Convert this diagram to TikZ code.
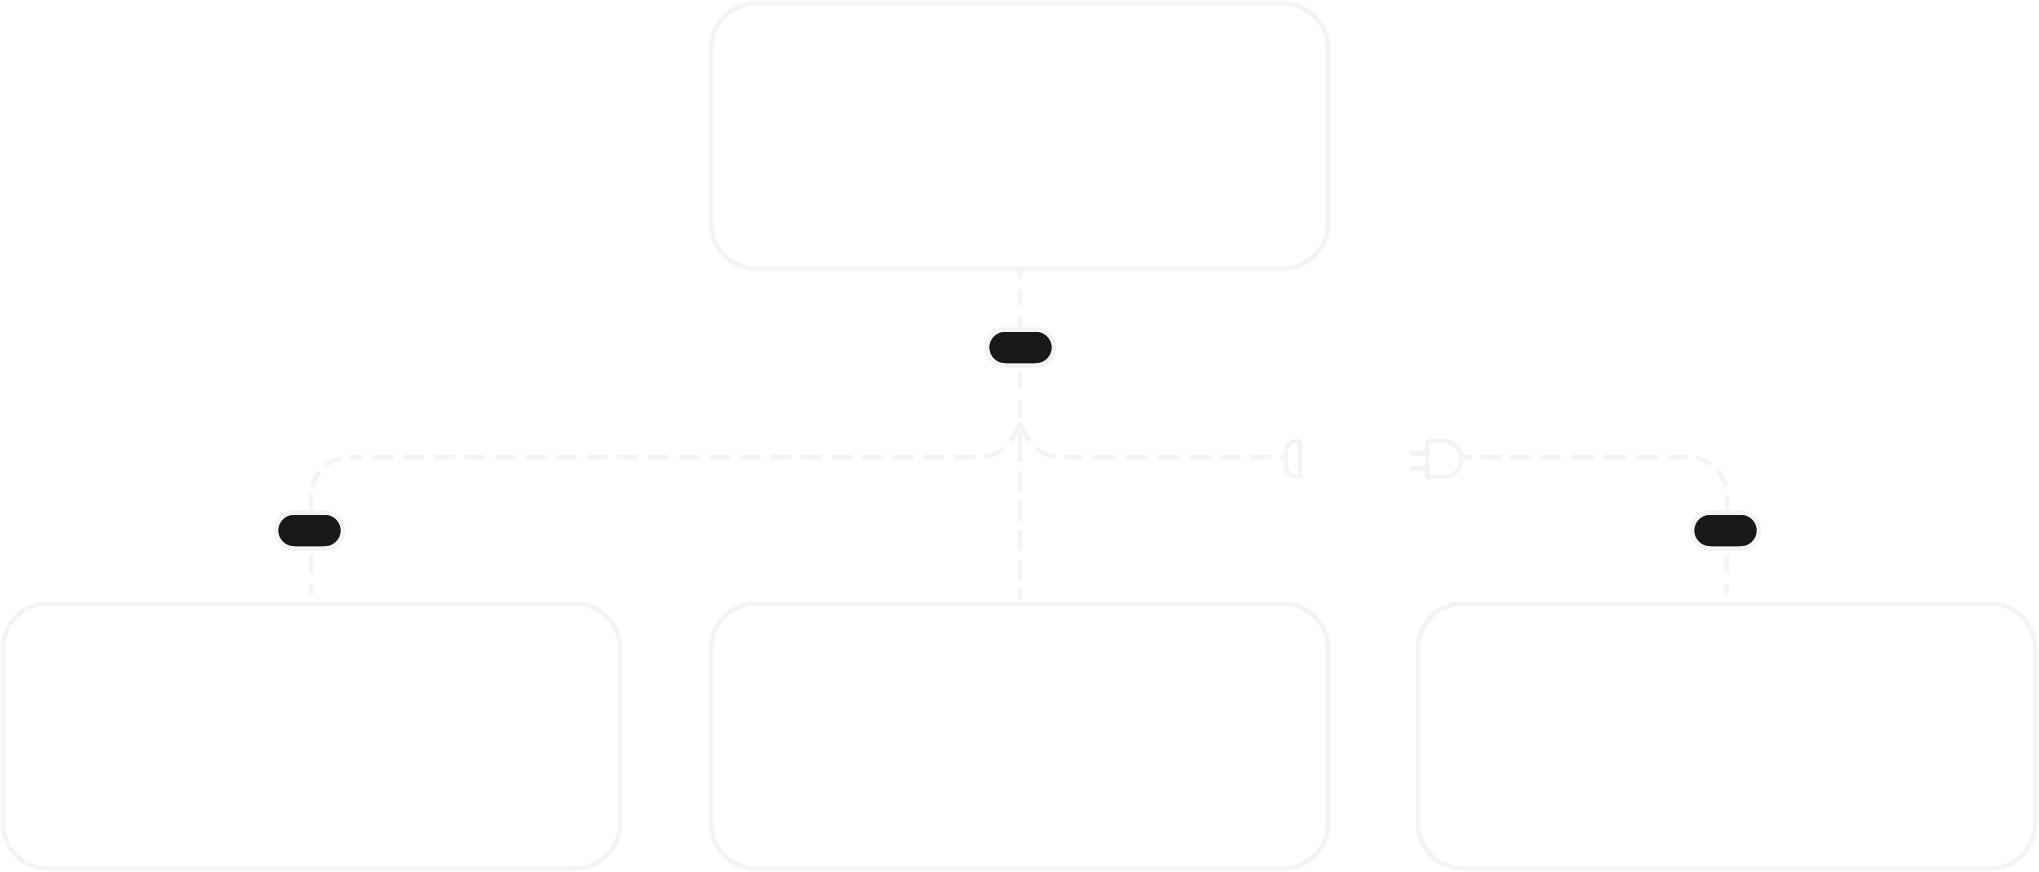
\documentclass[tikz,border=0pt]{standalone}
\usetikzlibrary{backgrounds}
\definecolor{edgegrey}{HTML}{F4F4F5}
\definecolor{pillblack}{HTML}{18181B}
\tikzset{
  card/.style={draw=edgegrey,fill=white,line width=4.5pt,rounded corners=45pt,minimum width=617pt,minimum height=265pt,inner sep=0pt,outer sep=0pt},
  pill/.style={draw=edgegrey,fill=pillblack,line width=4.5pt,rounded corners=18pt,minimum width=67pt,minimum height=36pt,inner sep=0pt,outer sep=0pt},
  link/.style={draw=edgegrey,line width=4.5pt},
  plugline/.style={draw=edgegrey,line width=4.2pt,line join=round,rounded corners=2pt},
  prong/.style={draw=edgegrey,line width=5pt}
}
\begin{document}
\begin{tikzpicture}[x=1pt,y=-1pt]
\useasboundingbox (0,0) rectangle (2039,872);
% cards
\node[card] (top) at (1019.5,136) {};
\node[card] (left) at (311.5,736) {};
\node[card] (mid) at (1019.5,736) {};
\node[card] (right) at (1726.5,736) {};
% pills
\node[pill] (ptop) at (1020.5,347.5) {};
\node[pill] (pleft) at (309.5,530.5) {};
\node[pill] (pright) at (1725.5,530.5) {};
% anchors
\coordinate (junction) at (1020,423);
\coordinate (midstart) at (1020,432);
\coordinate (leftbend) at (350,457);
\coordinate (socketstub) at (1286,457);
\coordinate (plugstub) at (1461,457);
\coordinate (socketprong) at (1427,453);
\coordinate (plugprong) at (1427,468);
% connectors
\begin{scope}[on background layer]
\path[link,dash pattern=on 16pt off 11pt,dash phase=6pt] (top.south) -- (ptop.south);
\path[link,dash pattern=on 17pt off 11pt,dash phase=21.5pt] (ptop.south) -- (junction);
\path[link,dash pattern=on 30pt off 9pt on 20.5pt off 9pt on 20.5pt off 9pt on 20.5pt off 9pt on 20.5pt off 9pt on 10pt off 100pt] (midstart) -- (mid.north);
\path[link,dash pattern=on 21pt off 9.6pt] (junction) .. controls (1011,445) and (998,457) .. (981,457) -- (leftbend);
\path[link,dash pattern=on 0pt off 9pt on 18pt off 8pt on 17pt off 7pt on 30pt off 30pt on 20pt off 11pt on 10pt off 100pt] (leftbend) .. controls (328,457) and (311,475) .. (311,497) -- (left.north);
\path[link,dash pattern=on 21pt off 9.6pt on 21pt off 9pt on 18pt off 10pt on 23pt off 10pt on 22pt off 10pt on 22pt off 10pt on 22pt off 8pt on 21pt off 9pt on 21pt off 9pt on 12pt off 50pt] (junction) .. controls (1029,445) and (1042,457) .. (1059,457) -- (socketstub);
\path[link,dash pattern=on 11pt off 9pt on 21pt off 8pt on 21pt off 9pt on 21pt off 10pt on 23pt off 9pt on 23pt off 10pt on 22pt off 10pt on 19pt off 9pt on 17pt off 8pt on 19pt off 8pt on 30pt off 29pt on 20pt off 10pt on 10pt off 100pt] (plugstub) -- (1690,457) .. controls (1710,457) and (1727,475) .. (1727,497) -- (right.north);
\end{scope}
% socket
\draw[plugline] (1300,441) -- (1300,477) -- (1298,477) .. controls (1291,477) and (1286,472) .. (1286,465) -- (1286,453) .. controls (1286,446) and (1291,441) .. (1298,441) -- cycle;
% plug
\draw[plugline] (1427,441) -- (1443,441) .. controls (1453,441) and (1461,449) .. (1461,459) .. controls (1461,469) and (1453,477) .. (1443,477) -- (1427,477) -- cycle;
\draw[prong] (1410,453) -- (socketprong);
\draw[prong] (1410,468) -- (plugprong);
\end{tikzpicture}
\end{document}
